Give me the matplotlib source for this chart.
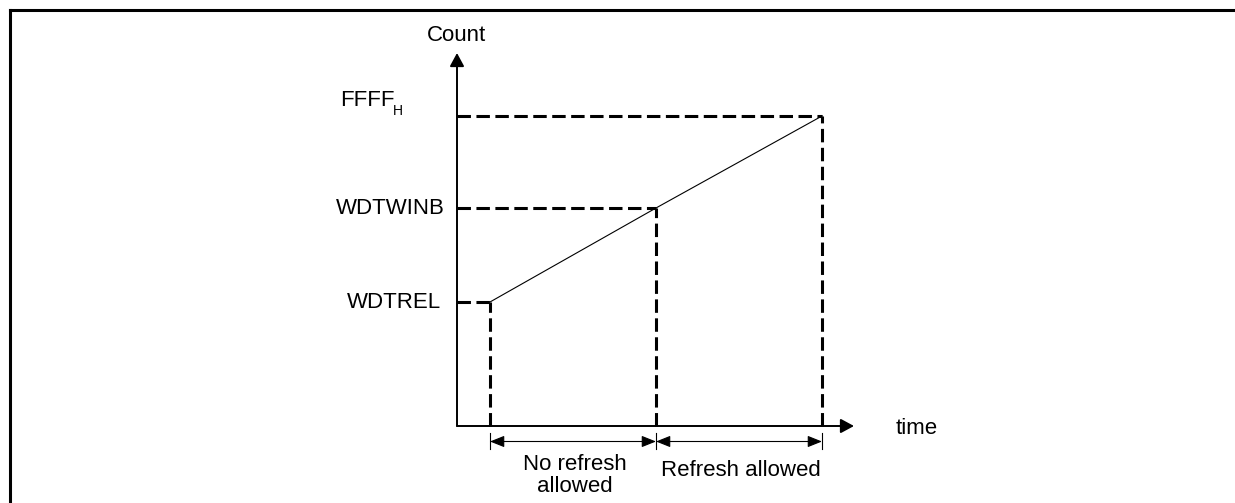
import matplotlib.pyplot as plt
from matplotlib.lines import Line2D

plt.rcParams['font.family'] = ['Liberation Sans', 'DejaVu Sans']

# Watchdog counter diagram values (arbitrary units, origin = axes corner)
time_marks = [33, 199, 365]        # reload, window boundary, overflow
count_levels = [124, 218, 310]     # WDTREL, WDTWINB, FFFF_H
level_labels = ['WDTREL', 'WDTWINB', 'FFFF']
time_end = 397
count_end = 373
span_labels = [['No refresh', 'allowed'], ['Refresh allowed']]

fig = plt.figure(figsize=(12.35, 5.03), dpi=100)
ax = fig.add_axes([0, 0, 1, 1])
ax.set_xlim(-457, 778)
ax.set_ylim(-77, 426)
ax.axis('off')

# frame (only top and left edges visible)
fig.add_artist(Line2D([10 / 1235, 1], [1 - 10 / 503, 1 - 10 / 503], color='k', lw=2.2))
fig.add_artist(Line2D([10 / 1235, 10 / 1235], [0, 1 - 10 / 503], color='k', lw=2.2))

# axes with arrows
axis_arrow = dict(arrowstyle='-|>,head_length=0.5,head_width=0.27', lw=1.4, color='k',
                  mutation_scale=16, shrinkA=0, shrinkB=0)
ax.annotate('', xy=(0, count_end), xytext=(0, 0), arrowprops=axis_arrow)
ax.annotate('', xy=(time_end, 0), xytext=(0, 0), arrowprops=axis_arrow)
ax.text(0, 391, 'Count', ha='center', va='center', fontsize=16)
ax.text(460, -2, 'time', ha='center', va='center', fontsize=16)

# counter ramp
ax.plot(time_marks, count_levels, color='k', lw=0.8)

# dashed guide lines
for t, c in zip(time_marks, count_levels):
    ax.plot([0, t], [c, c], color='k', lw=2.2, dashes=(4.4, 1.8))
    ax.plot([t, t], [0, c], color='k', lw=2.2, dashes=(4.4, 1.8))

# level labels
ax.text(-16, count_levels[0], level_labels[0], ha='right', va='center', fontsize=16)
ax.text(-12, count_levels[1], level_labels[1], ha='right', va='center', fontsize=16)
ax.text(-117, 326, level_labels[2], ha='left', va='center', fontsize=16)
ax.text(-64, 315, 'H', ha='left', va='center', fontsize=10)

# dimension arrows
dim_arrow = dict(arrowstyle='<|-|>,head_length=0.55,head_width=0.22', lw=0.8, color='k',
                 mutation_scale=16, shrinkA=0, shrinkB=0)
for t in time_marks:
    ax.plot([t, t], [-7, -23], color='k', lw=0.8)
for t0, t1 in zip(time_marks[:-1], time_marks[1:]):
    ax.annotate('', xy=(t1, -15.5), xytext=(t0, -15.5), arrowprops=dim_arrow)

mid0 = (time_marks[0] + time_marks[1]) / 2
mid1 = (time_marks[1] + time_marks[2]) / 2
ax.text(mid0 + 2, -38, span_labels[0][0], ha='center', va='center', fontsize=16)
ax.text(mid0 + 2, -60, span_labels[0][1], ha='center', va='center', fontsize=16)
ax.text(mid1 + 2, -45, span_labels[1][0], ha='center', va='center', fontsize=16)

fig.savefig('out.png', dpi=100)
